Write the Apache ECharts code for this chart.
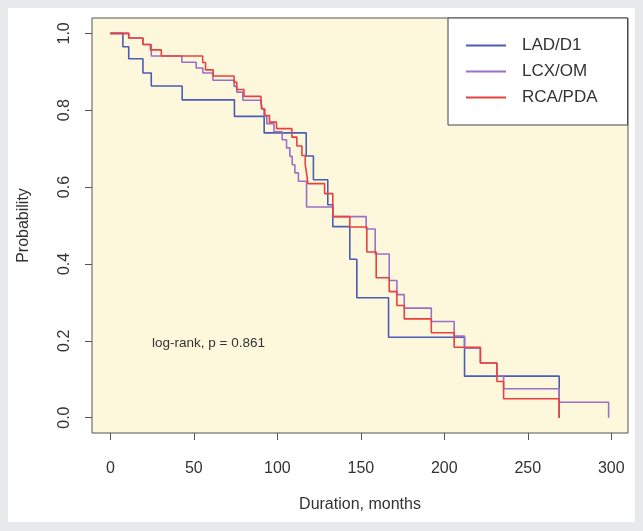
<!DOCTYPE html>
<html><head><meta charset="utf-8">
<script src="https://cdn.jsdelivr.net/npm/echarts@6/dist/echarts.min.js"></script>
<style>
html,body{margin:0;padding:0;background:#e8e9eb;width:643px;height:531px;overflow:hidden;}
#wrap{position:absolute;left:8px;top:8px;width:627px;height:514px;background:#fff;}
#chart{width:627px;height:514px;}
</style></head><body>
<div id="wrap"><div id="chart"></div></div>
<script>
const categories = ['LAD/D1', 'LCX/OM', 'RCA/PDA'];
const xTicks = [0, 50, 100, 150, 200, 250, 300];
const yTicks = [0, 0.2, 0.4, 0.6, 0.8, 1.0];

const ladT = [0, 7.5, 11, 19.5, 24.5, 43, 74.3, 92.1, 117.3, 121.6, 130.2, 133.2, 143.4, 147.6, 166.6, 212.1, 268.8];
const ladS = [1, 0.965, 0.934, 0.897, 0.863, 0.827, 0.784, 0.741, 0.681, 0.619, 0.554, 0.497, 0.412, 0.312, 0.209, 0.108, 0];

const lcxT = [0, 11, 19.5, 24.5, 42.8, 51.4, 55.4, 61.4, 74.1, 75.7, 79.3, 90.4, 92.0, 93.7, 98.0, 102.9, 105.5, 107.5, 108.9, 110.5, 112.6, 117.5, 133.2, 153.2, 158.6, 167, 171.6, 176, 192.2, 205.9, 212.1, 221.6, 231.5, 235.5, 268.8, 298.4];
const lcxS = [1, 0.988, 0.971, 0.941, 0.925, 0.91, 0.897, 0.878, 0.862, 0.847, 0.826, 0.804, 0.785, 0.765, 0.744, 0.723, 0.702, 0.68, 0.658, 0.637, 0.615, 0.548, 0.523, 0.491, 0.426, 0.357, 0.32, 0.285, 0.25, 0.212, 0.181, 0.142, 0.109, 0.075, 0.04, 0];

const rcaT = [0, 11, 19.5, 24, 30.5, 55.3, 57, 61.6, 74.1, 75.7, 80, 90.2, 91, 92.5, 95.3, 99.5, 108.7, 111.7, 114.7, 116.7, 117.6, 118.3, 128.3, 133.2, 143.4, 153.6, 159.2, 167, 171.6, 176, 192.2, 205.9, 221.6, 231.5, 235.5, 268.8];
const rcaS = [1, 0.988, 0.971, 0.957, 0.941, 0.924, 0.905, 0.889, 0.873, 0.854, 0.836, 0.82, 0.803, 0.786, 0.769, 0.752, 0.73, 0.707, 0.682, 0.658, 0.633, 0.609, 0.583, 0.523, 0.496, 0.431, 0.364, 0.328, 0.292, 0.257, 0.221, 0.183, 0.142, 0.094, 0.049, 0];

const colors = ['#4a5cb4', '#9c6fc8', '#e8413f'];
const zip = (t, s) => t.map((v, i) => [v, s[i]]);
const seriesData = [zip(ladT, ladS), zip(lcxT, lcxS), zip(rcaT, rcaS)];

const FONT = '"Liberation Sans", Arial, sans-serif';
const chart = echarts.init(document.getElementById('chart'), null, {renderer: 'canvas'});
chart.setOption({
  animation: false,
  textStyle: {fontFamily: FONT},
  grid: {left: 84, top: 10, width: 536, height: 415, show: true, backgroundColor: '#fdf8dc', borderColor: '#555', borderWidth: 1},
  title: {text: 'log-rank, p = 0.861', left: 139, top: 323, textStyle: {fontSize: 13.5, fontWeight: 'normal', color: '#333', fontFamily: FONT}},
  legend: {
    data: categories, orient: 'vertical', left: 440, top: 10,
    padding: [19, 30, 19, 18], itemGap: 9, itemWidth: 40, itemHeight: 2, icon: 'rect',
    backgroundColor: '#fff', borderColor: '#444', borderWidth: 1,
    textStyle: {fontSize: 17, color: '#333', fontFamily: FONT, padding: [0, 0, 0, 11]}
  },
  xAxis: {
    type: 'value', min: -11, max: 310,
    name: 'Duration, months', nameLocation: 'middle', nameGap: 64,
    nameTextStyle: {fontSize: 16, color: '#333', fontFamily: FONT},
    axisLine: {show: false, onZero: false}, splitLine: {show: false},
    axisTick: {show: true, length: 7, lineStyle: {color: '#555'}, customValues: xTicks},
    axisLabel: {fontSize: 16, color: '#333', margin: 28, customValues: xTicks, fontFamily: FONT}
  },
  yAxis: {
    type: 'value', min: -0.04, max: 1.04,
    name: 'Probability', nameLocation: 'middle', nameGap: 60, nameRotate: 90,
    nameTextStyle: {fontSize: 16, color: '#333', fontFamily: FONT},
    axisLine: {show: false, onZero: false}, splitLine: {show: false},
    axisTick: {show: true, length: 7, lineStyle: {color: '#555'}, customValues: yTicks},
    axisLabel: {fontSize: 16, color: '#333', margin: 19, rotate: 90, customValues: yTicks, fontFamily: FONT,
      formatter: v => v.toFixed(1)}
  },
  series: categories.map((name, i) => ({
    name, type: 'line', step: 'end', data: seriesData[i], showSymbol: false, symbol: 'none',
    lineStyle: {color: colors[i], width: 1.6}, itemStyle: {color: colors[i]}
  }))
});
</script></body></html>
